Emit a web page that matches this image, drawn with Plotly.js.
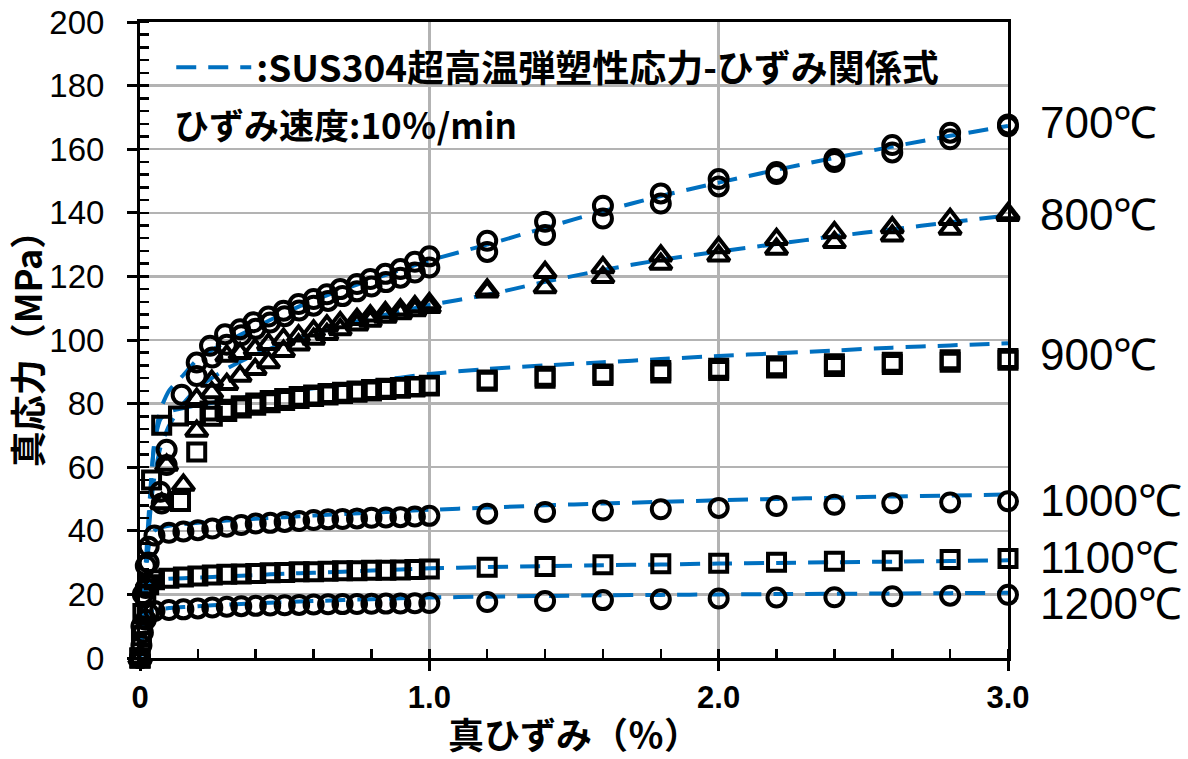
<!DOCTYPE html>
<html>
<head>
<meta charset="utf-8">
<script src="https://cdn.plot.ly/plotly-3.0.1.min.js"></script>
<style>html,body{margin:0;padding:0;background:#fff;}#chart{width:1188px;height:759px;}</style>
</head>
<body>
<div id="chart"></div>
<script>
// ---- measured data (true strain %, true stress MPa) ----
const x700a = [0, 0.03, 0.07, 0.092, 0.144, 0.196, 0.242, 0.294, 0.346, 0.392, 0.444, 0.496, 0.548, 0.6, 0.646, 0.692, 0.75, 0.796, 0.848, 0.9, 0.95, 1.0, 1.2, 1.4, 1.6, 1.8, 2.0, 2.2, 2.4, 2.6, 2.8, 3.0];
const y700a = [0, 30, 52.3, 65.5, 82.8, 92.9, 98.2, 101.8, 103.4, 105.6, 107.4, 109.2, 111.3, 112.9, 114.4, 116.0, 117.6, 119.2, 120.8, 122.3, 124.6, 126.3, 131.2, 137.2, 142.2, 146.1, 150.6, 152.8, 156.9, 161.3, 165.2, 167.8];
const x700b = [0, 0.02, 0.075, 0.092, 0.196, 0.25, 0.3, 0.35, 0.4, 0.45, 0.5, 0.55, 0.6, 0.65, 0.7, 0.75, 0.8, 0.85, 0.9, 0.95, 1.0, 1.2, 1.4, 1.6, 1.8, 2.0, 2.2, 2.4, 2.6, 2.8, 3.0];
const y700b = [0, 22, 48.6, 60.7, 88.7, 94.5, 98.5, 101.5, 103.5, 105.5, 107.5, 109.3, 110.8, 112.3, 113.8, 115.3, 116.8, 118.2, 119.6, 121.2, 122.8, 127.7, 133.0, 138.2, 142.9, 148.3, 152.2, 156.0, 159.0, 163.1, 167.2];

const x800a = [0, 0.03, 0.075, 0.15, 0.196, 0.248, 0.3, 0.346, 0.398, 0.444, 0.496, 0.548, 0.6, 0.646, 0.692, 0.75, 0.796, 0.848, 0.9, 0.95, 1.0, 1.2, 1.4, 1.6, 1.8, 2.0, 2.2, 2.4, 2.6, 2.8, 3.0];
const y800a = [0, 24, 48.6, 54.4, 81.4, 87.1, 95.0, 95.8, 97.1, 98.7, 100.3, 101.3, 102.9, 104.5, 105.5, 106.5, 107.6, 108.6, 109.5, 110.5, 111.5, 115.8, 121.3, 122.8, 126.5, 129.1, 131.7, 133.8, 135.4, 138.0, 139.8];
const x800b = [0, 0.092, 0.196, 0.248, 0.3, 0.346, 0.398, 0.444, 0.496, 0.548, 0.6, 0.646, 0.692, 0.75, 0.796, 0.848, 0.9, 0.95, 1.0, 1.2, 1.4, 1.6, 1.8, 2.0, 2.2, 2.4, 2.6, 2.8, 3.0];
const y800b = [0, 60.7, 71.4, 83.5, 86.1, 88.7, 90.8, 92.9, 96.5, 98.5, 100.3, 101.8, 103.3, 104.8, 106.0, 107.2, 108.3, 109.3, 110.3, 115.2, 116.5, 119.7, 123.9, 126.5, 128.6, 130.7, 132.8, 134.9, 139.2];

const x900a = [0, 0.04, 0.075, 0.133, 0.19, 0.242, 0.294, 0.35, 0.4, 0.45, 0.5, 0.55, 0.6, 0.65, 0.7, 0.75, 0.8, 0.85, 0.9, 0.95, 1.0, 1.2, 1.4, 1.6, 1.8, 2.0, 2.2, 2.4, 2.6, 2.8, 3.0];
const y900a = [0, 56, 73.2, 76.1, 76.6, 77.7, 78.2, 79.3, 80.2, 81.0, 81.6, 82.2, 82.7, 83.2, 83.6, 84.0, 84.4, 84.8, 85.1, 85.4, 85.8, 87.4, 88.6, 89.3, 90.4, 91.1, 91.9, 92.5, 93.0, 93.8, 94.2];
const x900b = [0, 0.14, 0.196, 0.25, 0.3, 0.35, 0.4, 0.45, 0.5, 0.55, 0.6, 0.65, 0.7, 0.75, 0.8, 0.85, 0.9, 0.95, 1.0, 1.2, 1.4, 1.6, 1.8, 2.0, 2.2, 2.4, 2.6, 2.8, 3.0];
const y900b = [0, 49.2, 64.8, 76.0, 77.5, 78.6, 79.5, 80.3, 81.0, 81.6, 82.2, 82.7, 83.2, 83.6, 84.0, 84.4, 84.8, 85.2, 85.5, 87.0, 88.0, 88.8, 89.6, 90.4, 91.2, 91.7, 92.3, 93.0, 93.6];

const x1000 = [0, 0.005, 0.01, 0.02, 0.03, 0.05, 0.1, 0.15, 0.2, 0.25, 0.3, 0.35, 0.4, 0.45, 0.5, 0.55, 0.6, 0.65, 0.7, 0.75, 0.8, 0.85, 0.9, 0.95, 1.0, 1.2, 1.4, 1.6, 1.8, 2.0, 2.2, 2.4, 2.6, 2.8, 3.0];
const y1000 = [0, 10, 20, 29, 35, 38.5, 39.4, 39.8, 40.2, 40.7, 41.3, 41.8, 42.3, 42.5, 42.8, 43.1, 43.4, 43.6, 43.7, 43.9, 44.1, 44.2, 44.3, 44.5, 44.7, 45.4, 45.9, 46.4, 46.8, 47.2, 47.8, 48.2, 48.7, 48.9, 49.3];
const x1100 = [0, 0.005, 0.01, 0.02, 0.03, 0.05, 0.1, 0.15, 0.2, 0.25, 0.3, 0.35, 0.4, 0.45, 0.5, 0.55, 0.6, 0.65, 0.7, 0.75, 0.8, 0.85, 0.9, 0.95, 1.0, 1.2, 1.4, 1.6, 1.8, 2.0, 2.2, 2.4, 2.6, 2.8, 3.0];
const y1100 = [0, 7, 14, 20, 23, 24.6, 25.1, 25.5, 25.8, 26.1, 26.3, 26.4, 26.6, 26.8, 26.9, 27.1, 27.1, 27.3, 27.4, 27.4, 27.6, 27.6, 27.7, 27.8, 28.0, 28.5, 28.8, 29.3, 29.6, 29.8, 30.1, 30.4, 30.6, 31.0, 31.3];
const x1200 = [0, 0.005, 0.01, 0.02, 0.03, 0.05, 0.1, 0.15, 0.2, 0.25, 0.3, 0.35, 0.4, 0.45, 0.5, 0.55, 0.6, 0.65, 0.7, 0.75, 0.8, 0.85, 0.9, 0.95, 1.0, 1.2, 1.4, 1.6, 1.8, 2.0, 2.2, 2.4, 2.6, 2.8, 3.0];
const y1200 = [0, 4, 8, 12, 14, 14.8, 15.1, 15.3, 15.6, 15.9, 16.1, 16.3, 16.4, 16.5, 16.6, 16.7, 16.8, 16.9, 16.95, 17.0, 17.05, 17.1, 17.15, 17.2, 17.3, 17.6, 17.9, 18.2, 18.5, 18.7, 19.0, 19.1, 19.4, 19.6, 19.9];

// ---- constitutive-equation curves (dashed) ----
const fitX    = [0, 0.01, 0.02, 0.03, 0.04, 0.05, 0.07, 0.1, 0.15, 0.2, 0.3, 0.4, 0.5, 0.6, 0.8, 1.0, 1.2, 1.4, 1.6, 1.8, 2.0, 2.2, 2.4, 2.6, 2.8, 3.0];
const fit700  = [0, 15, 30, 45, 58, 68, 78, 84, 89, 94, 99.5, 104, 108.5, 112.5, 119, 125, 130, 135.3, 140.5, 145.3, 149.5, 153.5, 157.3, 160.8, 164.2, 167.3];
const fit800  = [0, 14, 28, 40, 50, 57, 66, 73, 80, 85, 91, 95.5, 99, 102, 107, 111, 114.2, 118.3, 122, 125.2, 127.8, 130.2, 132.6, 134.8, 137, 139.2];
const fit900  = [0, 13, 26, 40, 58, 68, 75, 77.5, 78.6, 79.5, 81, 82.5, 83.7, 84.8, 87, 89.3, 90.9, 92, 93, 94, 95, 95.8, 96.7, 97.6, 98.3, 99.0];
const fit1000 = [0, 13, 26, 35, 38.5, 40, 41, 41.6, 42.1, 42.5, 43.2, 43.8, 44.3, 44.8, 45.7, 46.6, 47.3, 48.0, 48.6, 49.1, 49.6, 50.0, 50.4, 50.8, 51.1, 51.4];
const fit1100 = [0, 11, 20, 23.5, 24.2, 24.5, 24.7, 24.9, 25.1, 25.3, 25.7, 26.1, 26.5, 26.8, 27.5, 28.2, 28.6, 28.9, 29.2, 29.4, 29.7, 29.9, 30.1, 30.3, 30.5, 30.7];
const fit1200 = [0, 8, 12.5, 14.2, 14.8, 15.1, 15.4, 15.7, 16.0, 16.3, 16.8, 17.2, 17.6, 17.9, 18.5, 19.0, 19.3, 19.5, 19.7, 19.85, 20.0, 20.1, 20.2, 20.3, 20.4, 20.5];

const tempLabels = ['700℃', '800℃', '900℃', '1000℃', '1100℃', '1200℃'];
const tempLabelY = [168.5, 139.5, 95.5, 49.5, 31.5, 17.0];
const xTickVals = [0, 1, 2, 3];
const xTickText = ['0', '1.0', '2.0', '3.0'];
const legendText = ':SUS304超高温弾塑性応力-ひずみ関係式';
const rateText = 'ひずみ速度:10％/min';
const xTitle = '真ひずみ（％）';
const yTitle = '真応力（MPa）';

// ---- traces ----
const JP = '"Noto Sans CJK JP", "Noto Sans", sans-serif';
const fitColor = '#0070C0';
const fits = [fit700, fit800, fit900, fit1000, fit1100, fit1200];
const traces = [];
fits.forEach((f, i) => {
  traces.push({
    x: fitX, y: f, type: 'scatter', mode: 'lines',
    line: {color: fitColor, width: 4, dash: '20px,12px', shape: 'spline', smoothing: 0.5},
    name: legendText, showlegend: i === 0, hoverinfo: 'skip', cliponaxis: false
  });
});
function pts(x, y, sym, size) {
  return {x: x, y: y, type: 'scatter', mode: 'markers', showlegend: false, cliponaxis: false,
    marker: {symbol: sym, size: size, color: '#000', line: {color: '#000', width: 4}}};
}
traces.push(pts(x700a, y700a, 'circle-open', 18));
traces.push(pts(x700b, y700b, 'circle-open', 18));
traces.push(pts(x800a, y800a, 'triangle-up-open', 19));
traces.push(pts(x800b, y800b, 'triangle-up-open', 19));
traces.push(pts(x900a, y900a, 'square-open', 17));
traces.push(pts(x900b, y900b, 'square-open', 17));
traces.push(pts(x1000, y1000, 'circle-open', 18));
traces.push(pts(x1100, y1100, 'square-open', 17));
traces.push(pts(x1200, y1200, 'circle-open', 18));

const annotations = tempLabels.map((t, i) => ({
  text: t, xref: 'paper', yref: 'y', x: 1, y: tempLabelY[i], xanchor: 'left', yanchor: 'middle',
  xshift: 30, showarrow: false,
  font: {family: '"Liberation Sans", Arial, sans-serif', size: 44, color: '#000'}
}));
annotations.push({
  text: rateText, xref: 'paper', yref: 'paper', x: 0.037, y: 0.841, xanchor: 'left', yanchor: 'middle',
  showarrow: false, font: {family: JP, size: 35, color: '#000', weight: 'bold'}
});

const layout = {
  width: 1188, height: 759,
  margin: {l: 140, r: 180, t: 22, b: 101},
  paper_bgcolor: '#fff', plot_bgcolor: '#fff',
  font: {family: JP, color: '#000'},
  showlegend: true,
  legend: {x: 0.036, y: 0.928, xanchor: 'left', yanchor: 'middle', bgcolor: 'rgba(0,0,0,0)',
    itemwidth: 75, font: {family: JP, size: 37, color: '#000', weight: 'bold'}},
  xaxis: {
    range: [0, 3], tickvals: xTickVals, ticktext: xTickText,
    showline: true, linecolor: '#000', linewidth: 3, mirror: true,
    ticks: 'outside', ticklen: 10, tickwidth: 3, tickcolor: '#000',
    minor: {dtick: 0.2, ticks: 'inside', ticklen: 9, tickwidth: 2.5, tickcolor: '#000', showgrid: false},
    showgrid: true, gridcolor: '#b3b3b3', gridwidth: 2.5, zeroline: false,
    tickfont: {family: '"Liberation Sans Narrow", "Liberation Sans", Arial, sans-serif', size: 31, color: '#000', weight: 'bold'},
    title: {text: xTitle, standoff: 8, font: {family: JP, size: 36, color: '#000', weight: 'bold'}}
  },
  yaxis: {
    range: [0, 200], dtick: 20,
    showline: true, linecolor: '#000', linewidth: 3, mirror: true,
    ticks: 'outside', ticklen: 10, tickwidth: 3, tickcolor: '#000', ticklabelstandoff: 16,
    minor: {dtick: 4, ticks: 'inside', ticklen: 9, tickwidth: 2.5, tickcolor: '#000', showgrid: false},
    showgrid: true, gridcolor: '#b3b3b3', gridwidth: 2.5, zeroline: false,
    tickfont: {family: '"Liberation Sans", Arial, sans-serif', size: 33, color: '#000'},
    title: {text: yTitle, standoff: 8, font: {family: JP, size: 36, color: '#000', weight: 'bold'}}
  },
  annotations: annotations
};
Plotly.newPlot('chart', traces, layout, {staticPlot: true, displayModeBar: false});
</script>
</body>
</html>
